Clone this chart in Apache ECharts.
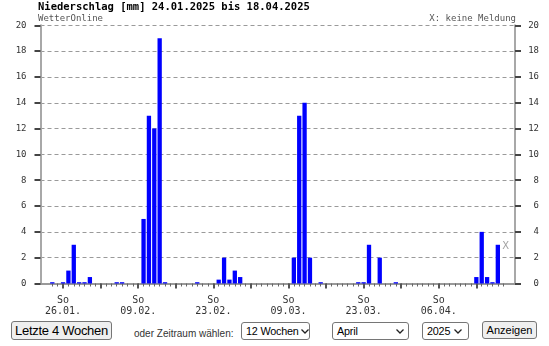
<!DOCTYPE html>
<html><head><meta charset="utf-8">
<script src="https://cdn.jsdelivr.net/npm/echarts@6/dist/echarts.min.js"></script>
<style>
html,body{margin:0;padding:0;background:#fff;width:549px;height:346px;overflow:hidden;}
#chart{position:absolute;left:0;top:0;width:549px;height:318px;}
.ctl{position:absolute;font-family:"Liberation Sans",Arial,sans-serif;box-sizing:border-box;color:#000;margin:0;white-space:nowrap;}
.btn{background:#efefef;border:1px solid #767676;border-radius:3px;text-align:center;}
.sel{background:#fff;border:1px solid #767676;border-radius:3px;height:18px;top:322px;font-size:10.8px;line-height:16px;padding-left:4px;letter-spacing:-0.2px;}
.sel svg{position:absolute;top:6px;}
#b1{left:11px;top:321px;width:101px;height:19px;font-size:13px;line-height:17px;letter-spacing:-0.3px;}
#t1{left:134px;top:328px;font-size:10px;color:#333;}
#s1{left:241px;width:69px;}
#s1 svg{left:59px;}
#s2{left:332px;width:77px;}
#s2 svg{left:63px;}
#s3{left:422px;width:47px;}
#s3 svg{left:31px;}
#b2{left:482px;top:321px;width:55px;height:18px;font-size:11px;line-height:16px;}
</style>
</head><body>
<div id="chart"></div>
<div class="ctl btn" id="b1">Letzte 4 Wochen</div>
<span class="ctl" id="t1">oder Zeitraum wählen:</span>
<div class="ctl sel" id="s1">12 Wochen<svg width="8" height="5"><polyline points="0.5,0.5 4,4 7.5,0.5" fill="none" stroke="#222" stroke-width="1.3"/></svg></div>
<div class="ctl sel" id="s2">April<svg width="8" height="5"><polyline points="0.5,0.5 4,4 7.5,0.5" fill="none" stroke="#222" stroke-width="1.3"/></svg></div>
<div class="ctl sel" id="s3">2025<svg width="8" height="5"><polyline points="0.5,0.5 4,4 7.5,0.5" fill="none" stroke="#222" stroke-width="1.3"/></svg></div>
<div class="ctl btn" id="b2">Anzeigen</div>
<script>
// Daily precipitation [mm], 24.01.2025 .. 18.04.2025 (last day: no report)
const titleText = 'Niederschlag [mm] 24.01.2025 bis 18.04.2025';
const values = [
  0.1, 0, 0.1, 1, 3, 0.1, 0.1, 0.5,          // 24.01 - 31.01
  0, 0, 0, 0, 0.1, 0.1, 0, 0, 0,             // 01.02 - 09.02
  5, 13, 12, 19, 0.1,                        // 10.02 - 14.02
  0, 0, 0, 0, 0, 0.1, 0, 0, 0,               // 15.02 - 23.02
  0.3, 2, 0.3, 1, 0.5,                       // 24.02 - 28.02
  0, 0, 0, 0, 0, 0, 0, 0, 0,                 // 01.03 - 09.03
  2, 13, 14, 2, 0, 0.1,                      // 10.03 - 15.03
  0, 0, 0, 0, 0, 0,                          // 16.03 - 21.03
  0.1, 0.1, 3, 0, 2, 0, 0, 0.1,              // 22.03 - 29.03
  0, 0, 0, 0, 0, 0, 0, 0, 0, 0, 0, 0, 0, 0,  // 30.03 - 12.04
  0.5, 4, 0.5, 0.1, 3,                       // 13.04 - 17.04
  null                                       // 18.04 (X: keine Meldung)
];
const noReportDays = [84];
const labelDays = [2, 16, 30, 44, 58, 72];
const labelDates = ['26.01.', '09.02.', '23.02.', '09.03.', '23.03.', '06.04.'];
const labelWeekday = 'So';
const sundays = [2, 9, 16, 23, 30, 37, 44, 51, 58, 65, 72, 79];

const allDays = values.map((_, i) => i);
const mono = '"DejaVu Sans Mono", monospace';
const xMin = -2.2, xMax = 86.2;

const yBase = {
  type: 'value', min: 0, max: 20, interval: 2,
  axisLine: {show: true, onZero: false, lineStyle: {color: '#a8a8a8', width: 2}},
  axisTick: {show: true, length: 6, lineStyle: {color: '#444', width: 2}},
};

const chart = echarts.init(document.getElementById('chart'), null, {renderer: 'canvas'});
chart.setOption({
  animation: false,
  backgroundColor: '#fff',
  grid: {left: 40.5, right: 34, top: 25.3, bottom: 34.5, containLabel: false},
  graphic: [
    {type: 'text', left: 38, top: 1.5, style: {text: titleText, font: 'bold 10.5px ' + mono, fill: '#000'}},
    {type: 'text', left: 38, top: 14, style: {text: 'WetterOnline', font: '9px ' + mono, fill: '#555'}},
    {type: 'text', right: 33, top: 14, style: {text: 'X: keine Meldung', font: '9px ' + mono, fill: '#555'}}
  ],
  xAxis: [
    {
      type: 'value', min: xMin, max: xMax, position: 'bottom',
      axisLine: {show: true, onZero: false, lineStyle: {color: '#999', width: 2}},
      axisTick: {show: true, customValues: allDays, length: 3, lineStyle: {color: '#666', width: 1}},
      axisLabel: {
        show: true, customValues: labelDays, margin: 11.5,
        formatter: v => labelWeekday + '\n' + labelDates[labelDays.indexOf(v)],
        fontFamily: mono, fontSize: 10, lineHeight: 11, color: '#333'
      },
      splitLine: {show: false}
    },
    {
      type: 'value', min: xMin, max: xMax, position: 'bottom',
      axisLine: {show: false, onZero: false},
      axisTick: {show: true, customValues: sundays, length: 5, lineStyle: {color: '#555', width: 2}},
      axisLabel: {show: false},
      splitLine: {show: false}
    }
  ],
  yAxis: [
    Object.assign({}, yBase, {
      position: 'left',
      axisLabel: {fontFamily: mono, fontSize: 9, color: '#333', margin: 14},
      splitLine: {show: true, lineStyle: {color: '#9a9a9a', width: 1, type: [4, 3]}}
    }),
    Object.assign({}, yBase, {
      position: 'right',
      axisLabel: {fontFamily: mono, fontSize: 9, color: '#333', margin: 24, align: 'right'},
      splitLine: {show: false}
    })
  ],
  series: [
    {
      type: 'bar', xAxisIndex: 0, yAxisIndex: 0,
      data: values.map((v, i) => [i, v]),
      barWidth: 4.3,
      itemStyle: {color: '#0000ff'},
      silent: true
    },
    {
      type: 'scatter', xAxisIndex: 0, yAxisIndex: 0,
      data: noReportDays.map(d => [d, 2.9]),
      symbolSize: 1, itemStyle: {color: 'rgba(0,0,0,0)'},
      label: {show: true, position: 'inside', formatter: 'X', offset: [2.5, 0],
               fontFamily: '"DejaVu Sans", sans-serif', fontSize: 10, color: '#8a8a8a'},
      silent: true
    }
  ]
});
</script>
</body></html>
